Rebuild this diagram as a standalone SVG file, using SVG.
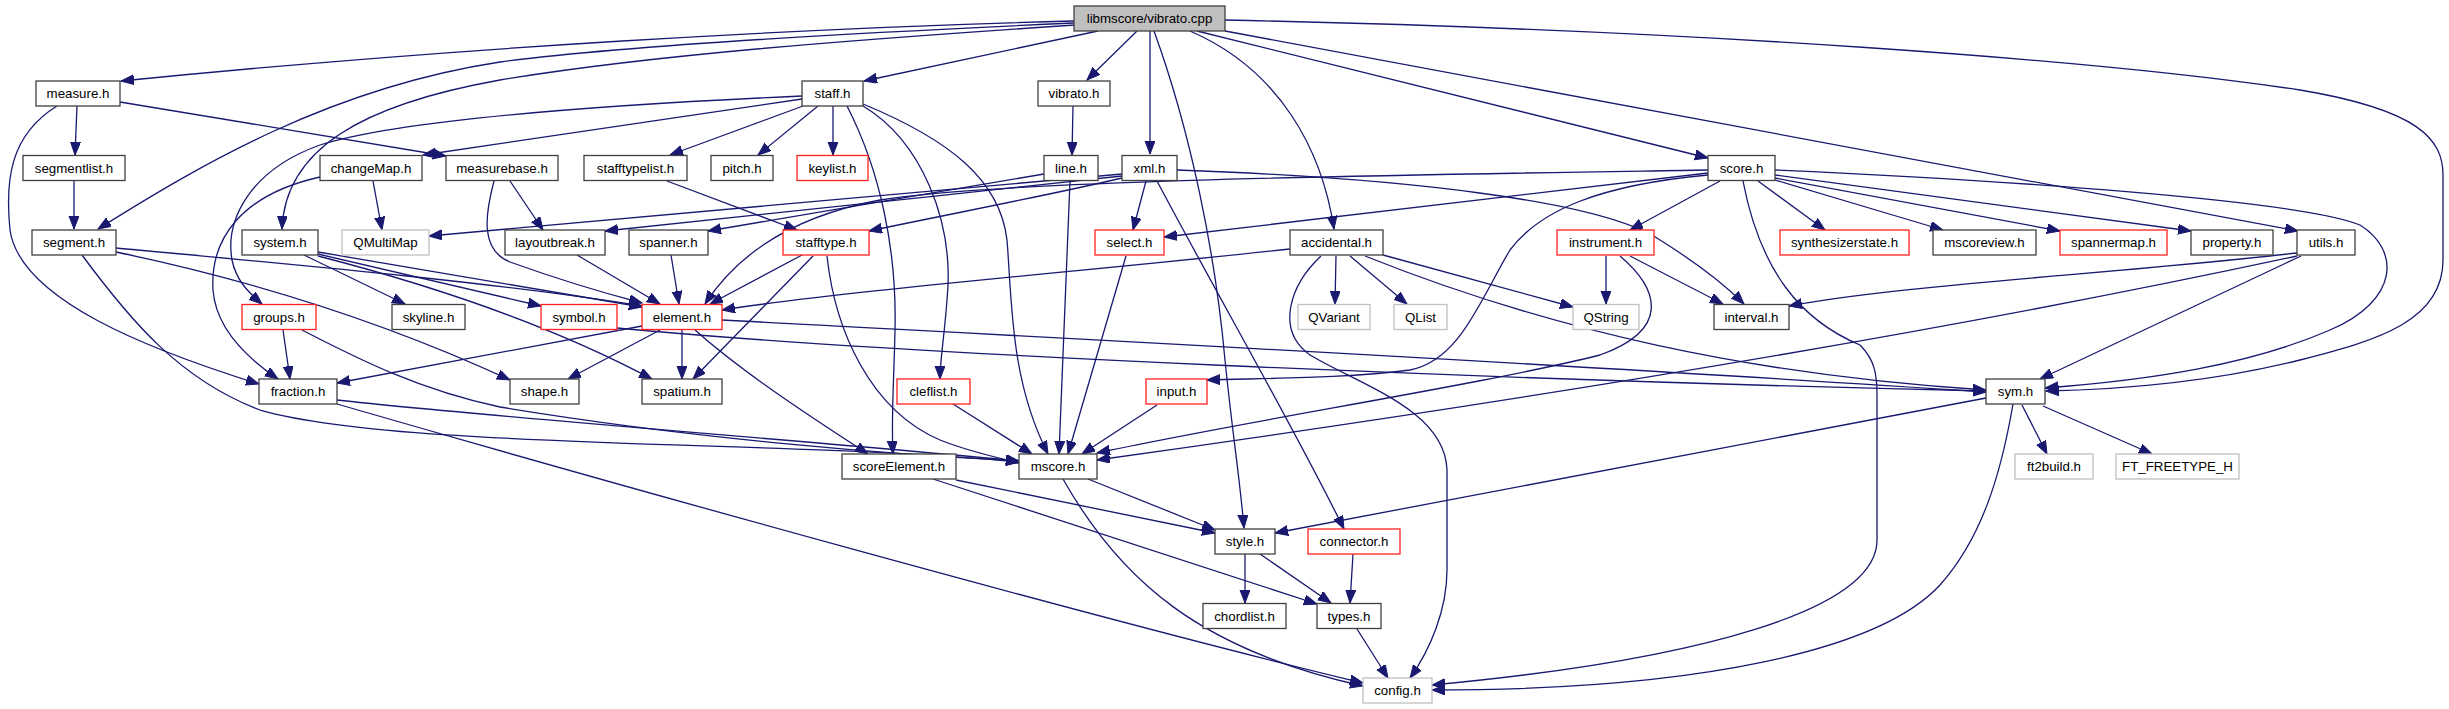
<svg xmlns="http://www.w3.org/2000/svg" width="2449" height="709" viewBox="0 0 2449 709">
<style>
.n rect{fill:#fff;stroke:#404040;stroke-width:1.3}
.n.r rect{stroke:#ff2020}
.n.g rect{stroke:#c0c0c0}
.n.root rect{fill:#bfbfbf}
.n text{font-family:"Liberation Sans",Arial,sans-serif;font-size:13.3px;fill:#000;text-anchor:middle}
#edges path{fill:none;stroke:#191970;stroke-width:1.3;marker-end:url(#ah)}
</style>
<defs>
<marker id="ah" markerWidth="14" markerHeight="11" refX="13" refY="5" orient="auto" markerUnits="userSpaceOnUse"><path d="M0,0 L13,5 L0,10 z" fill="#191970" stroke="#191970" stroke-width="1"/></marker>
</defs>
<rect width="2449" height="709" fill="#fff"/>
<g id="edges">
<path d="M1074,21 C 800,28 450,48 121,81"/>
<path d="M1074,23 C 850,33 620,46 500,62 C 330,88 200,165 98,229"/>
<path d="M1075,25 C 850,40 650,55 500,80 C 360,105 285,150 282,229"/>
<path d="M1098,31 L864,81"/>
<path d="M1137,31 L1087,80"/>
<path d="M1150,31 L1150,154"/>
<path d="M1154,31 C 1190,130 1215,250 1225,360 C 1232,430 1240,480 1244,528"/>
<path d="M1190,31 C 1280,70 1322,150 1334,229"/>
<path d="M1197,31 L1708,158"/>
<path d="M1225,31 L2298,231"/>
<path d="M1225,20 C 1700,30 2100,60 2300,90 C 2420,110 2443,140 2443,175 L2443,260 C 2443,320 2380,340 2300,360 C 2200,385 2100,390 2046,391"/>
<path d="M77,106 L75,155"/>
<path d="M120,102 L446,156"/>
<path d="M57,106 C 10,135 5,180 10,230 C 20,300 150,350 259,384"/>
<path d="M74,181 L74,229"/>
<path d="M116,248 C 300,265 500,283 642,306"/>
<path d="M116,252 C 250,280 380,320 510,380"/>
<path d="M82,255 C 130,320 180,380 260,410 C 400,450 800,440 1019,462"/>
<path d="M318,252 L642,307"/>
<path d="M318,256 C 450,290 560,330 652,379"/>
<path d="M318,254 L541,306"/>
<path d="M304,255 L405,304"/>
<path d="M802,99 L423,155"/>
<path d="M802,96 C 600,105 400,120 320,145 C 250,170 225,220 232,260 C 236,280 248,292 262,304"/>
<path d="M803,106 L670,155"/>
<path d="M818,106 L758,155"/>
<path d="M833,106 L833,155"/>
<path d="M863,106 C 920,140 955,220 947,300 C 944,340 940,360 940,379"/>
<path d="M847,106 C 880,170 897,250 895,330 C 894,380 891,420 893,454"/>
<path d="M863,104 C 950,140 1000,180 1007,240 C 1012,300 1010,380 1048,454"/>
<path d="M373,181 L382,230"/>
<path d="M320,177 C 240,195 210,240 213,290 C 216,330 250,360 278,379"/>
<path d="M510,181 L543,230"/>
<path d="M494,181 C 485,215 480,250 510,262 C 560,280 600,292 642,303"/>
<path d="M667,181 L797,230"/>
<path d="M577,255 L660,304"/>
<path d="M671,255 L679,304"/>
<path d="M802,255 L710,304"/>
<path d="M813,256 L693,379"/>
<path d="M827,256 C 835,330 870,410 940,440 C 970,452 1000,458 1019,463"/>
<path d="M1073,106 L1072,155"/>
<path d="M1044,174 L708,231"/>
<path d="M1070,181 C 1066,300 1062,400 1059,454"/>
<path d="M1146,181 L1133,230"/>
<path d="M1157,181 C 1220,300 1290,420 1344,529"/>
<path d="M1177,170 C 1400,178 1600,200 1660,240 C 1700,265 1725,285 1744,304"/>
<path d="M1122,178 C 1050,195 960,212 869,231"/>
<path d="M1122,174 C 900,195 650,215 429,236"/>
<path d="M1122,176 C 950,195 750,215 605,231"/>
<path d="M1708,170 C 1400,175 1000,180 880,200 C 800,215 740,250 705,304"/>
<path d="M1708,173 L1164,237"/>
<path d="M1708,175 C 1600,185 1540,210 1510,250 C 1480,300 1460,360 1410,370 C 1350,378 1280,378 1207,380"/>
<path d="M1720,181 L1630,230"/>
<path d="M1758,181 L1825,230"/>
<path d="M1775,180 L1943,230"/>
<path d="M1775,178 L2060,231"/>
<path d="M1775,175 L2191,231"/>
<path d="M1775,170 C 2000,180 2300,200 2360,225 C 2400,250 2400,300 2330,330 C 2250,365 2150,380 2045,388"/>
<path d="M1743,181 C 1760,270 1800,320 1860,345 C 1875,360 1877,375 1877,395 L1877,540 C 1877,610 1700,660 1432,685"/>
<path d="M1290,249 C 1100,270 850,290 722,310"/>
<path d="M1336,256 L1335,304"/>
<path d="M1350,256 L1407,304"/>
<path d="M1383,255 L1573,307"/>
<path d="M1365,256 C 1550,330 1750,375 1986,390"/>
<path d="M1321,256 C 1290,285 1275,330 1310,355 C 1360,385 1445,410 1447,470 L1447,570 C 1447,610 1430,650 1410,678"/>
<path d="M1606,256 L1606,304"/>
<path d="M1630,256 L1723,304"/>
<path d="M1620,256 C 1660,290 1670,330 1600,355 C 1480,385 1250,420 1097,453"/>
<path d="M1126,256 L1068,454"/>
<path d="M1157,405 L1082,454"/>
<path d="M2297,253 C 2100,275 1900,285 1789,306"/>
<path d="M2301,256 L2040,379"/>
<path d="M2297,256 C 2000,320 1600,390 1097,460"/>
<path d="M2022,405 L2047,454"/>
<path d="M2043,406 L2152,454"/>
<path d="M2013,404 C 2000,480 1980,540 1940,585 C 1880,650 1700,690 1432,690"/>
<path d="M1986,398 L1275,533"/>
<path d="M642,326 L337,383"/>
<path d="M660,330 L568,379"/>
<path d="M682,330 L682,379"/>
<path d="M695,330 C 740,370 800,410 868,454"/>
<path d="M722,320 C 1000,335 1500,360 1986,392"/>
<path d="M617,328 C 900,355 1500,380 1986,391"/>
<path d="M956,480 L1215,533"/>
<path d="M933,479 L1317,604"/>
<path d="M1088,479 L1215,530"/>
<path d="M1063,479 C 1120,580 1200,650 1363,686"/>
<path d="M337,400 C 500,418 800,440 1019,461"/>
<path d="M337,404 C 600,480 1100,620 1363,683"/>
<path d="M283,330 L290,379"/>
<path d="M302,330 C 360,360 420,390 500,407 C 700,440 900,455 1019,461"/>
<path d="M1245,554 L1245,603"/>
<path d="M1260,554 L1331,603"/>
<path d="M1353,554 L1350,603"/>
<path d="M1357,629 L1388,678"/>
<path d="M953,404 L1032,454"/>
</g>
<g id="n-root" class="n root"><rect x="1074" y="6" width="151" height="25"/><text x="1149.5" y="23">libmscore/vibrato.cpp</text></g>
<g id="n-measure" class="n"><rect x="36" y="81" width="84" height="25"/><text x="78" y="98">measure.h</text></g>
<g id="n-staff" class="n"><rect x="802" y="81" width="61" height="25"/><text x="832.5" y="98">staff.h</text></g>
<g id="n-vibrato" class="n"><rect x="1038" y="81" width="72" height="25"/><text x="1074" y="98">vibrato.h</text></g>
<g id="n-segmentlist" class="n"><rect x="23" y="155.5" width="102" height="25"/><text x="74" y="172.5">segmentlist.h</text></g>
<g id="n-changeMap" class="n"><rect x="320" y="155.5" width="102" height="25"/><text x="371" y="172.5">changeMap.h</text></g>
<g id="n-measurebase" class="n"><rect x="446" y="155.5" width="112" height="25"/><text x="502" y="172.5">measurebase.h</text></g>
<g id="n-stafftypelist" class="n"><rect x="584" y="155.5" width="103" height="25"/><text x="635.5" y="172.5">stafftypelist.h</text></g>
<g id="n-pitch" class="n"><rect x="711" y="155.5" width="62" height="25"/><text x="742" y="172.5">pitch.h</text></g>
<g id="n-keylist" class="n r"><rect x="797" y="155.5" width="71" height="25"/><text x="832.5" y="172.5">keylist.h</text></g>
<g id="n-line" class="n"><rect x="1044" y="155.5" width="54" height="25"/><text x="1071" y="172.5">line.h</text></g>
<g id="n-xml" class="n"><rect x="1122" y="155.5" width="55" height="25"/><text x="1149.5" y="172.5">xml.h</text></g>
<g id="n-score" class="n"><rect x="1708" y="155.5" width="67" height="25"/><text x="1741.5" y="172.5">score.h</text></g>
<g id="n-segment" class="n"><rect x="32" y="230" width="84" height="25"/><text x="74" y="247">segment.h</text></g>
<g id="n-system" class="n"><rect x="242" y="230" width="76" height="25"/><text x="280" y="247">system.h</text></g>
<g id="n-QMultiMap" class="n g"><rect x="342" y="230" width="87" height="25"/><text x="385.5" y="247">QMultiMap</text></g>
<g id="n-layoutbreak" class="n"><rect x="505" y="230" width="100" height="25"/><text x="555" y="247">layoutbreak.h</text></g>
<g id="n-spanner" class="n"><rect x="629" y="230" width="79" height="25"/><text x="668.5" y="247">spanner.h</text></g>
<g id="n-stafftype" class="n r"><rect x="783" y="230" width="86" height="25"/><text x="826" y="247">stafftype.h</text></g>
<g id="n-select" class="n r"><rect x="1095" y="230" width="69" height="25"/><text x="1129.5" y="247">select.h</text></g>
<g id="n-accidental" class="n"><rect x="1290" y="230" width="93" height="25"/><text x="1336.5" y="247">accidental.h</text></g>
<g id="n-instrument" class="n r"><rect x="1557" y="230" width="97" height="25"/><text x="1605.5" y="247">instrument.h</text></g>
<g id="n-synthesizerstate" class="n r"><rect x="1780" y="230" width="129" height="25"/><text x="1844.5" y="247">synthesizerstate.h</text></g>
<g id="n-mscoreview" class="n"><rect x="1933" y="230" width="103" height="25"/><text x="1984.5" y="247">mscoreview.h</text></g>
<g id="n-spannermap" class="n r"><rect x="2060" y="230" width="107" height="25"/><text x="2113.5" y="247">spannermap.h</text></g>
<g id="n-property" class="n"><rect x="2191" y="230" width="82" height="25"/><text x="2232" y="247">property.h</text></g>
<g id="n-utils" class="n"><rect x="2297" y="230" width="58" height="25"/><text x="2326" y="247">utils.h</text></g>
<g id="n-groups" class="n r"><rect x="242" y="304.5" width="74" height="25"/><text x="279" y="321.5">groups.h</text></g>
<g id="n-skyline" class="n"><rect x="392" y="304.5" width="73" height="25"/><text x="428.5" y="321.5">skyline.h</text></g>
<g id="n-symbol" class="n r"><rect x="541" y="304.5" width="76" height="25"/><text x="579" y="321.5">symbol.h</text></g>
<g id="n-element" class="n r"><rect x="642" y="304.5" width="80" height="25"/><text x="682" y="321.5">element.h</text></g>
<g id="n-QVariant" class="n g"><rect x="1298" y="304.5" width="72" height="25"/><text x="1334" y="321.5">QVariant</text></g>
<g id="n-QList" class="n g"><rect x="1394" y="304.5" width="53" height="25"/><text x="1420.5" y="321.5">QList</text></g>
<g id="n-QString" class="n g"><rect x="1573" y="304.5" width="66" height="25"/><text x="1606" y="321.5">QString</text></g>
<g id="n-interval" class="n"><rect x="1714" y="304.5" width="75" height="25"/><text x="1751.5" y="321.5">interval.h</text></g>
<g id="n-fraction" class="n"><rect x="259" y="379" width="78" height="25"/><text x="298" y="396">fraction.h</text></g>
<g id="n-shape" class="n"><rect x="510" y="379" width="69" height="25"/><text x="544.5" y="396">shape.h</text></g>
<g id="n-spatium" class="n"><rect x="642" y="379" width="80" height="25"/><text x="682" y="396">spatium.h</text></g>
<g id="n-cleflist" class="n r"><rect x="897" y="379" width="73" height="25"/><text x="933.5" y="396">cleflist.h</text></g>
<g id="n-input" class="n r"><rect x="1146" y="379" width="61" height="25"/><text x="1176.5" y="396">input.h</text></g>
<g id="n-sym" class="n"><rect x="1986" y="379" width="59" height="25"/><text x="2015.5" y="396">sym.h</text></g>
<g id="n-scoreElement" class="n"><rect x="842" y="454" width="114" height="25"/><text x="899" y="471">scoreElement.h</text></g>
<g id="n-mscore" class="n"><rect x="1019" y="454" width="78" height="25"/><text x="1058" y="471">mscore.h</text></g>
<g id="n-ft2build" class="n g"><rect x="2015" y="454" width="78" height="25"/><text x="2054" y="471">ft2build.h</text></g>
<g id="n-FT_FREETYPE_H" class="n g"><rect x="2116" y="454" width="123" height="25"/><text x="2177.5" y="471">FT_FREETYPE_H</text></g>
<g id="n-style" class="n"><rect x="1215" y="529" width="60" height="25"/><text x="1245" y="546">style.h</text></g>
<g id="n-connector" class="n r"><rect x="1308" y="529" width="92" height="25"/><text x="1354" y="546">connector.h</text></g>
<g id="n-chordlist" class="n"><rect x="1203" y="603.5" width="83" height="25"/><text x="1244.5" y="620.5">chordlist.h</text></g>
<g id="n-types" class="n"><rect x="1317" y="603.5" width="64" height="25"/><text x="1349" y="620.5">types.h</text></g>
<g id="n-config" class="n g"><rect x="1363" y="678" width="69" height="25"/><text x="1397.5" y="695">config.h</text></g>
</svg>
